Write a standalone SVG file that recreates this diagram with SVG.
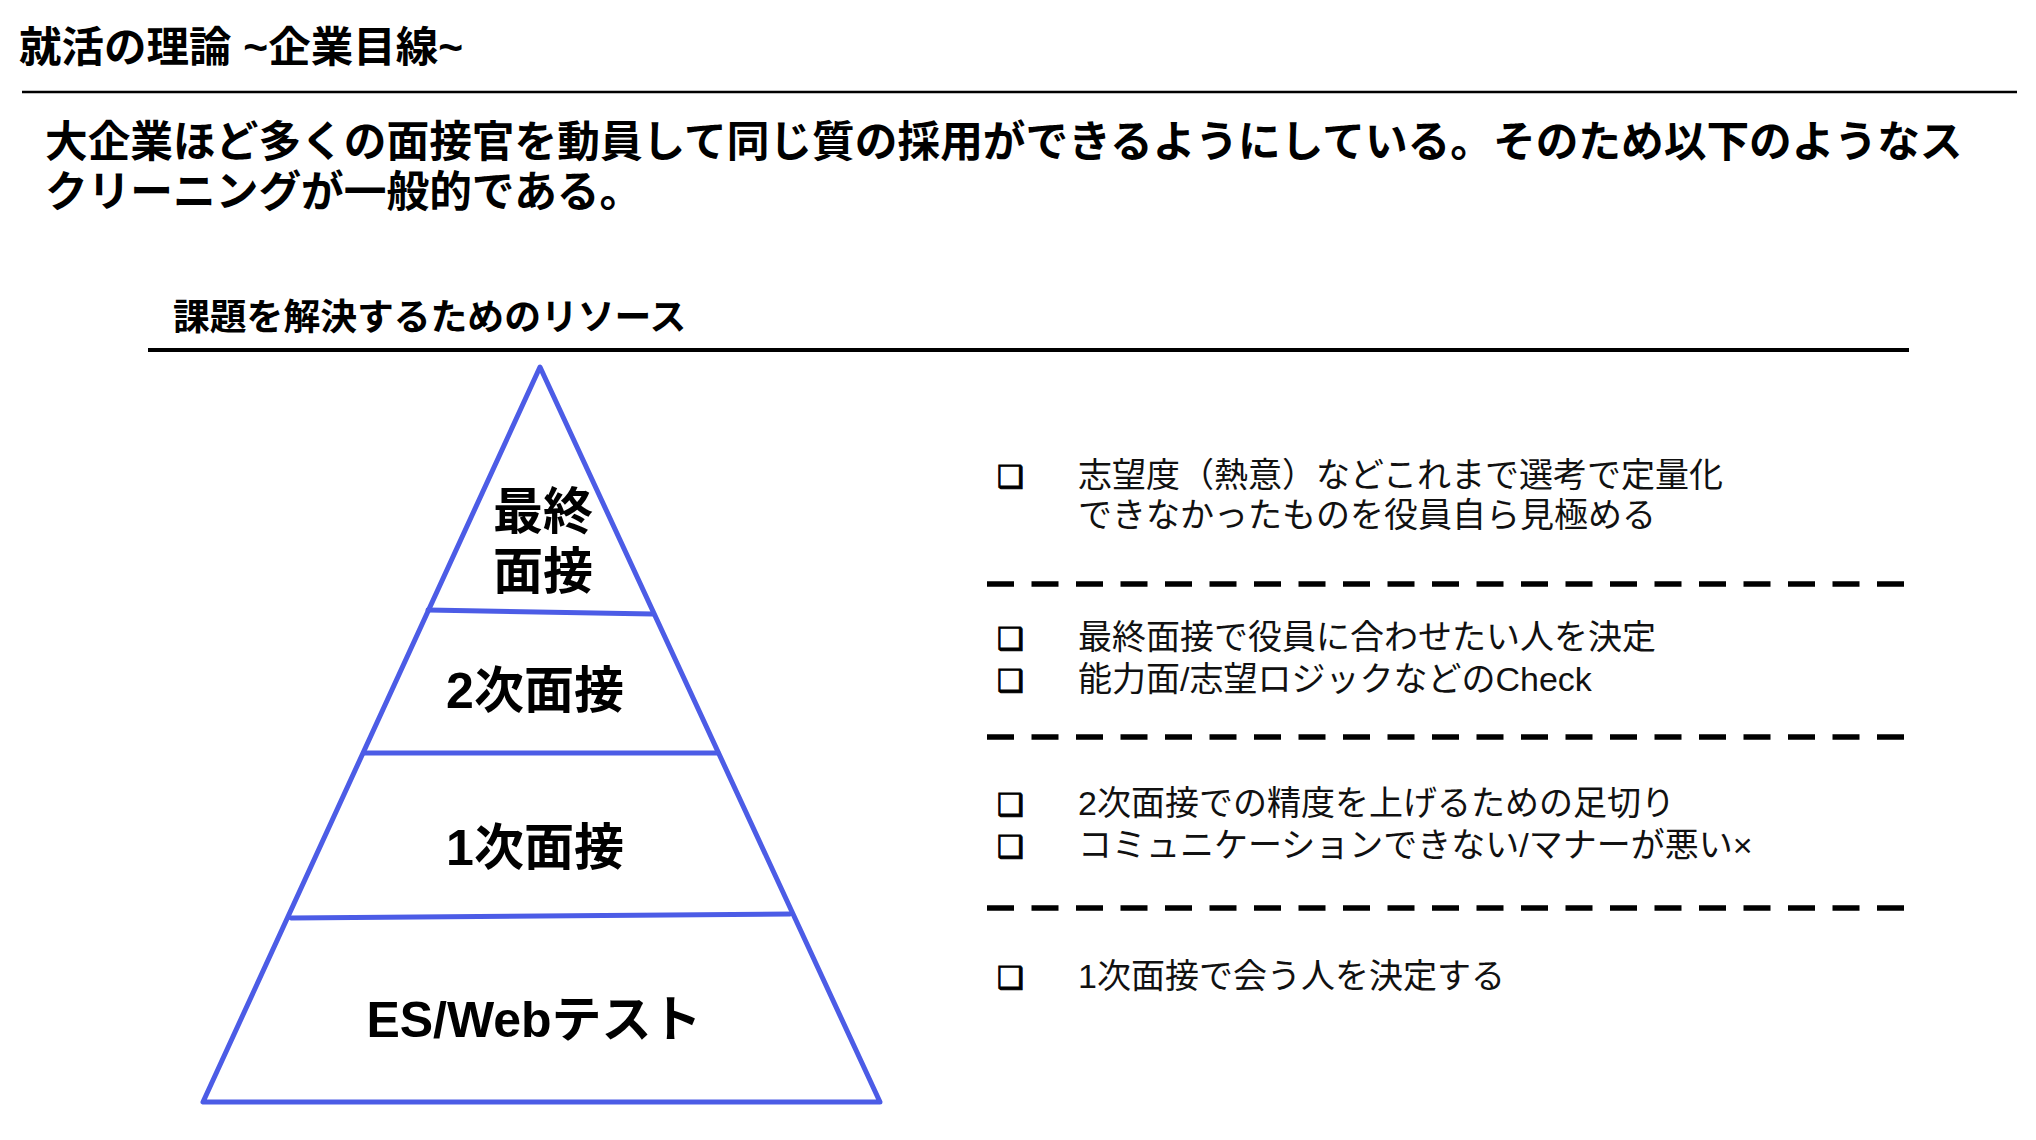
<svg xmlns="http://www.w3.org/2000/svg" width="2036" height="1140" viewBox="0 0 2036 1140">
  <style>
    .jp { font-family: "Liberation Sans", "Noto Sans CJK JP", sans-serif; fill: #000; }
    .b { font-weight: bold; }
    .item { font-family: "Liberation Sans", "Noto Sans CJK JP", sans-serif; font-size: 34px; fill: #111; }
    .bullet { font-family: "DejaVu Sans", sans-serif; font-size: 30px; fill: #000; stroke: #000; stroke-width: 1; }
    .tier { font-family: "Liberation Sans", "Noto Sans CJK JP", sans-serif; font-weight: bold; font-size: 50px; text-anchor: middle; fill: #000; }
    .pyr { stroke: #4c5ce6; stroke-width: 5; fill: none; stroke-linecap: round; stroke-linejoin: round; }
    .dash { stroke: #000; stroke-width: 5.5; stroke-dasharray: 27 17.5; }
  </style>
  <rect width="2036" height="1140" fill="#fff"/>

  <g id="header">
    <text class="jp b" x="19" y="62" font-size="42.5">就活の理論 ~企業目線~</text>
    <line x1="22" y1="92" x2="2017" y2="92" stroke="#000" stroke-width="2.5"/>
    <text class="jp b" x="45" y="157" font-size="42.7">大企業ほど多くの面接官を動員して同じ質の採用ができるようにしている。そのため以下のようなス</text>
    <text class="jp b" x="45" y="207" font-size="42.7">クリーニングが一般的である。</text>
  </g>

  <g id="subheading">
    <text class="jp b" x="173" y="330" font-size="36.8">課題を解決するためのリソース</text>
    <line x1="148" y1="350" x2="1909" y2="350" stroke="#000" stroke-width="4"/>
  </g>

  <g id="pyramid">
    <path class="pyr" d="M540,367 L203,1102 L880,1102 Z"/>
    <g id="tier-final">
      <text class="tier" x="543" y="529">最終</text>
      <text class="tier" x="543" y="589">面接</text>
    </g>
    <line class="pyr" x1="428" y1="610" x2="653" y2="614"/>
    <g id="tier-second">
      <text class="tier" x="535" y="708">2次面接</text>
    </g>
    <line class="pyr" x1="364" y1="753" x2="718" y2="753"/>
    <g id="tier-first">
      <text class="tier" x="535" y="865">1次面接</text>
    </g>
    <line class="pyr" x1="291" y1="918" x2="790" y2="914"/>
    <g id="tier-es">
      <text class="tier" x="534" y="1037">ES/Webテスト</text>
    </g>
  </g>

  <g id="connectors">
    <line class="dash" x1="987" y1="584" x2="1905" y2="584"/>
    <line class="dash" x1="987" y1="737" x2="1905" y2="737"/>
    <line class="dash" x1="987" y1="908" x2="1905" y2="908"/>
  </g>

  <g id="desc-final">
    <text class="bullet" x="997" y="487">❑</text>
    <text class="item" x="1078" y="487">志望度（熱意）などこれまで選考で定量化</text>
    <text class="item" x="1078" y="527">できなかったものを役員自ら見極める</text>
  </g>
  <g id="desc-second">
    <text class="bullet" x="997" y="649">❑</text>
    <text class="item" x="1078" y="649">最終面接で役員に合わせたい人を決定</text>
    <text class="bullet" x="997" y="691">❑</text>
    <text class="item" x="1078" y="691">能力面/志望ロジックなどのCheck</text>
  </g>
  <g id="desc-first">
    <text class="bullet" x="997" y="815">❑</text>
    <text class="item" x="1078" y="815">2次面接での精度を上げるための足切り</text>
    <text class="bullet" x="997" y="857">❑</text>
    <text class="item" x="1078" y="857">コミュニケーションできない/マナーが悪い×</text>
  </g>
  <g id="desc-es">
    <text class="bullet" x="997" y="988">❑</text>
    <text class="item" x="1078" y="988">1次面接で会う人を決定する</text>
  </g>
</svg>
